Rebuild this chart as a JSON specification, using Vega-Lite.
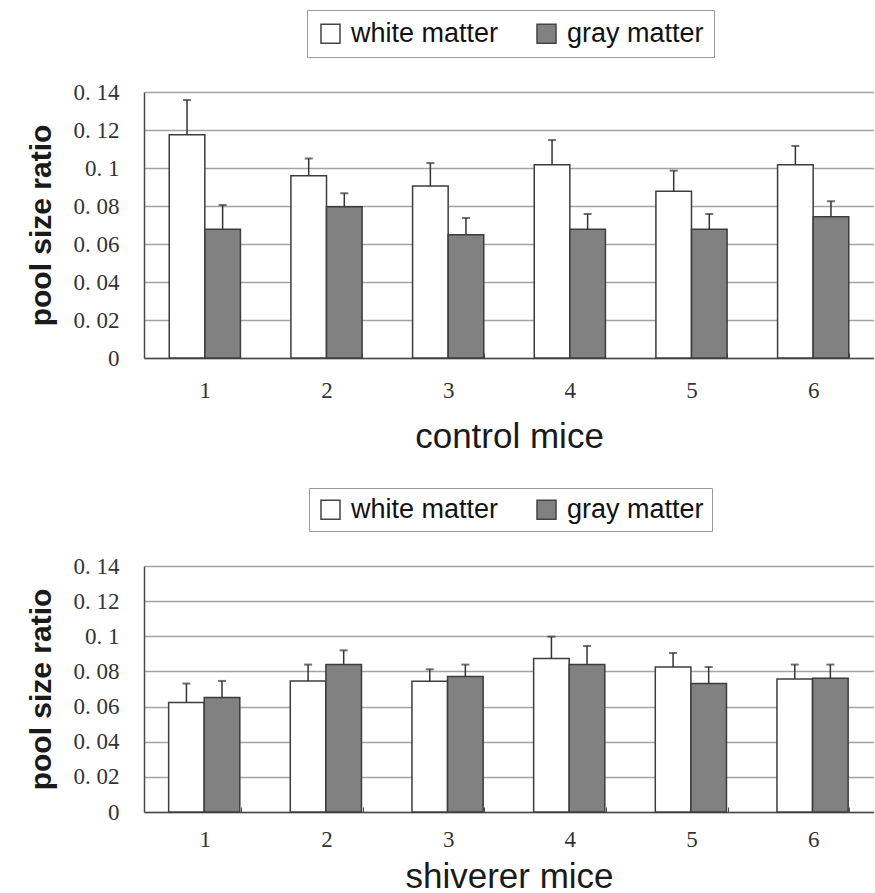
{
  "$schema": "https://vega.github.io/schema/vega-lite/v6.json",
  "background": "#ffffff",
  "autosize": {"type": "pad"},
  "padding": {"left": 26, "top": 9, "right": 0, "bottom": 0},
  "config": {
    "view": {"stroke": null},
    "font": "Liberation Sans",
    "axis": {
      "labelFont": "Liberation Serif",
      "labelFontSize": 23,
      "labelColor": "#333333",
      "labelOverlap": false,
      "titleFont": "Liberation Sans",
      "titleColor": "#1a1a1a",
      "domainColor": "#4a4a4a",
      "domainWidth": 1.5
    },
    "axisY": {
      "ticks": false,
      "tickCount": 10,
      "labelPadding": 25,
      "gridColor": "#a3a3a3",
      "gridWidth": 1.5,
      "titleFontSize": 30,
      "titleFontWeight": "bold",
      "titlePadding": 17
    },
    "axisX": {
      "labelAngle": 0,
      "ticks": true,
      "tickBand": "extent",
      "tickSize": -5,
      "tickColor": "#4a4a4a",
      "tickWidth": 1,
      "grid": false,
      "titleFontSize": 35,
      "titleFontWeight": "normal"
    },
    "legend": {
      "orient": "none",
      "direction": "horizontal",
      "columns": 2,
      "gridAlign": "all",
      "title": null,
      "strokeColor": "#9a9a9a",
      "fillColor": "#ffffff",
      "symbolType": "square",
      "symbolSize": 361,
      "symbolStrokeColor": "#444444",
      "symbolStrokeWidth": 1.5,
      "labelFont": "Liberation Sans",
      "labelFontSize": 27,
      "labelColor": "#111111",
      "labelOffset": 7,
      "columnPadding": 34
    }
  },
  "data": {
    "values": [
      {"group": "control", "mouse": "1", "tissue": "white matter", "ratio": 0.1175, "upper": 0.1358},
      {"group": "control", "mouse": "1", "tissue": "gray matter", "ratio": 0.0677, "upper": 0.0805},
      {"group": "control", "mouse": "2", "tissue": "white matter", "ratio": 0.0959, "upper": 0.105},
      {"group": "control", "mouse": "2", "tissue": "gray matter", "ratio": 0.0796, "upper": 0.0867},
      {"group": "control", "mouse": "3", "tissue": "white matter", "ratio": 0.0905, "upper": 0.1026},
      {"group": "control", "mouse": "3", "tissue": "gray matter", "ratio": 0.0649, "upper": 0.0737},
      {"group": "control", "mouse": "4", "tissue": "white matter", "ratio": 0.1017, "upper": 0.1147},
      {"group": "control", "mouse": "4", "tissue": "gray matter", "ratio": 0.0677, "upper": 0.0758},
      {"group": "control", "mouse": "5", "tissue": "white matter", "ratio": 0.0877, "upper": 0.0986},
      {"group": "control", "mouse": "5", "tissue": "gray matter", "ratio": 0.0677, "upper": 0.0758},
      {"group": "control", "mouse": "6", "tissue": "white matter", "ratio": 0.1017, "upper": 0.1116},
      {"group": "control", "mouse": "6", "tissue": "gray matter", "ratio": 0.0744, "upper": 0.0825},
      {"group": "shiverer", "mouse": "1", "tissue": "white matter", "ratio": 0.0623, "upper": 0.0731},
      {"group": "shiverer", "mouse": "1", "tissue": "gray matter", "ratio": 0.0651, "upper": 0.0746},
      {"group": "shiverer", "mouse": "2", "tissue": "white matter", "ratio": 0.0746, "upper": 0.0839},
      {"group": "shiverer", "mouse": "2", "tissue": "gray matter", "ratio": 0.0839, "upper": 0.092},
      {"group": "shiverer", "mouse": "3", "tissue": "white matter", "ratio": 0.0744, "upper": 0.0812},
      {"group": "shiverer", "mouse": "3", "tissue": "gray matter", "ratio": 0.0771, "upper": 0.0839},
      {"group": "shiverer", "mouse": "4", "tissue": "white matter", "ratio": 0.0873, "upper": 0.0998},
      {"group": "shiverer", "mouse": "4", "tissue": "gray matter", "ratio": 0.0839, "upper": 0.0945},
      {"group": "shiverer", "mouse": "5", "tissue": "white matter", "ratio": 0.0825, "upper": 0.0905},
      {"group": "shiverer", "mouse": "5", "tissue": "gray matter", "ratio": 0.0731, "upper": 0.0825},
      {"group": "shiverer", "mouse": "6", "tissue": "white matter", "ratio": 0.0757, "upper": 0.0839},
      {"group": "shiverer", "mouse": "6", "tissue": "gray matter", "ratio": 0.0761, "upper": 0.0839}
    ]
  },
  "spacing": 33,
  "resolve": {"scale": {"fill": "independent"}, "legend": {"fill": "independent"}},
  "vconcat": [
    {
      "width": 730,
      "height": 266,
      "transform": [{"filter": "datum.group == 'control'"}],
      "encoding": {
        "x": {
          "field": "mouse", "type": "nominal",
          "scale": {"paddingInner": 0.415, "paddingOuter": 0.2075},
          "axis": {"title": "control mice", "labelPadding": 26, "titlePadding": 17}
        },
        "xOffset": {"field": "tissue", "type": "nominal", "scale": {"domain": ["white matter", "gray matter"], "padding": 0}},
        "y": {
          "field": "ratio", "type": "quantitative",
          "scale": {"domain": [0, 0.14], "nice": false},
          "axis": {"title": "pool size ratio", "tickCount": 10, "values": [0, 0.02, 0.04, 0.06, 0.08, 0.1, 0.12, 0.14],
                   "labelExpr": "datum.value == 0 ? '0' : replace(format(datum.value, '.2~f'), '.', '. ')"}
        }
      },
      "layer": [
        {
          "mark": {"type": "bar", "stroke": "#3c3c3c", "strokeWidth": 1.5},
          "encoding": {
            "fill": {
              "field": "tissue", "type": "nominal",
              "scale": {"domain": ["white matter", "gray matter"], "range": ["#ffffff", "#818181"]},
              "legend": {"legendX": 163, "legendY": -82, "padding": 10}
            }
          }
        },
        {
          "mark": {"type": "rule", "color": "#333333", "strokeWidth": 1.5},
          "encoding": {"y2": {"field": "upper"}}
        },
        {
          "mark": {"type": "tick", "color": "#333333", "thickness": 2, "size": 8},
          "encoding": {
            "y": {
              "field": "upper", "type": "quantitative",
              "scale": {"domain": [0, 0.14], "nice": false},
              "axis": {"title": "pool size ratio", "tickCount": 10, "values": [0, 0.02, 0.04, 0.06, 0.08, 0.1, 0.12, 0.14],
                       "labelExpr": "datum.value == 0 ? '0' : replace(format(datum.value, '.2~f'), '.', '. ')"}
            }
          }
        }
      ]
    },
    {
      "width": 730,
      "height": 246,
      "transform": [{"filter": "datum.group == 'shiverer'"}],
      "encoding": {
        "x": {
          "field": "mouse", "type": "nominal",
          "scale": {"paddingInner": 0.405, "paddingOuter": 0.2025},
          "axis": {"title": "shiverer mice", "labelPadding": 21, "titlePadding": 8}
        },
        "xOffset": {"field": "tissue", "type": "nominal", "scale": {"domain": ["white matter", "gray matter"], "padding": 0}},
        "y": {
          "field": "ratio", "type": "quantitative",
          "scale": {"domain": [0, 0.14], "nice": false},
          "axis": {"title": "pool size ratio", "tickCount": 10, "values": [0, 0.02, 0.04, 0.06, 0.08, 0.1, 0.12, 0.14],
                   "labelExpr": "datum.value == 0 ? '0' : replace(format(datum.value, '.2~f'), '.', '. ')"}
        }
      },
      "layer": [
        {
          "mark": {"type": "bar", "stroke": "#3c3c3c", "strokeWidth": 1.5},
          "encoding": {
            "fill": {
              "field": "tissue", "type": "nominal",
              "scale": {"domain": ["white matter", "gray matter"], "range": ["#ffffff", "#818181"]},
              "legend": {"legendX": 165, "legendY": -78, "padding": 8}
            }
          }
        },
        {
          "mark": {"type": "rule", "color": "#333333", "strokeWidth": 1.5},
          "encoding": {"y2": {"field": "upper"}}
        },
        {
          "mark": {"type": "tick", "color": "#333333", "thickness": 2, "size": 8},
          "encoding": {
            "y": {
              "field": "upper", "type": "quantitative",
              "scale": {"domain": [0, 0.14], "nice": false},
              "axis": {"title": "pool size ratio", "tickCount": 10, "values": [0, 0.02, 0.04, 0.06, 0.08, 0.1, 0.12, 0.14],
                       "labelExpr": "datum.value == 0 ? '0' : replace(format(datum.value, '.2~f'), '.', '. ')"}
            }
          }
        }
      ]
    }
  ]
}
